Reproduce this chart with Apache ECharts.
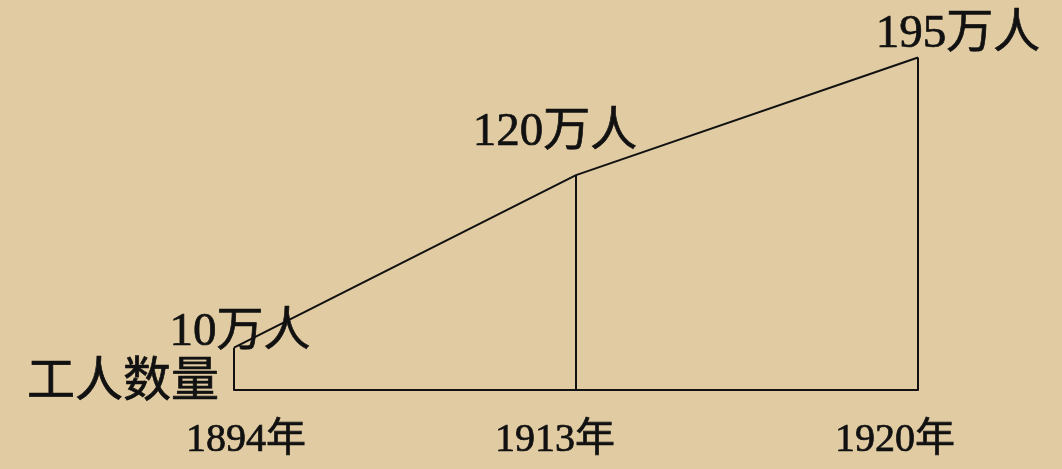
<!DOCTYPE html>
<html>
<head>
<meta charset="utf-8">
<script src="https://cdn.jsdelivr.net/npm/echarts@6/dist/echarts.min.js"></script>
<style>
html,body{margin:0;padding:0;background:#e0cba3;}
#c{width:1062px;height:469px;}
</style>
</head>
<body>
<div id="c"></div>
<script>
const years = ['1894年', '1913年', '1920年'];
const workers = [10, 120, 195];
const unit = '万人';
const yTitle = '工人数量';

const FONT = "'Liberation Serif', 'Noto Sans CJK SC', serif";
const yMin = -17, yMax = 210;
const labelOffsets = [[6, 14], [-21, -13], [40, 7]];
const xLabelPadding = [[0, 0, 0, 24], [0, 42, 0, 0], [0, 46, 0, 0]];
const INK = '#111';
const heavy = { textBorderColor: INK, textBorderWidth: 0.7 };

const chart = echarts.init(document.getElementById('c'));
chart.setOption({
  backgroundColor: '#e0cba3',
  animation: false,
  title: {
    text: yTitle, left: 22, top: 354,
    textStyle: Object.assign({ fontFamily: FONT, fontSize: 48, fontWeight: 'normal', color: INK }, heavy)
  },
  grid: { left: 234, right: 144, top: 34, bottom: 79 },
  xAxis: {
    type: 'category',
    data: years.map((y, i) => ({ value: y, textStyle: { padding: xLabelPadding[i] } })),
    boundaryGap: false,
    axisLine: { show: true, onZero: false, lineStyle: { color: INK, width: 2 } },
    axisTick: { show: false },
    axisLabel: Object.assign({ margin: 30, fontFamily: FONT, fontSize: 40, fontWeight: 'normal', color: INK }, heavy),
    splitLine: { show: false }
  },
  yAxis: {
    type: 'value', min: yMin, max: yMax,
    axisLine: { show: false }, axisTick: { show: false },
    axisLabel: { show: false }, splitLine: { show: false }
  },
  series: [{
    type: 'line',
    data: workers.map((v, i) => ({ value: v, label: { offset: labelOffsets[i] } })),
    symbol: 'circle', symbolSize: 0, showSymbol: true,
    lineStyle: { color: INK, width: 2 },
    label: Object.assign({
      show: true, position: 'top', distance: 6,
      formatter: p => p.value + unit,
      fontFamily: FONT, fontSize: 47, fontWeight: 'normal', color: INK
    }, heavy),
    markLine: {
      silent: true, symbol: 'none', label: { show: false },
      lineStyle: { color: INK, width: 2, type: 'solid' },
      data: workers.map((v, i) => [{ coord: [i, v] }, { coord: [i, yMin] }])
    }
  }]
});
</script>
</body>
</html>
